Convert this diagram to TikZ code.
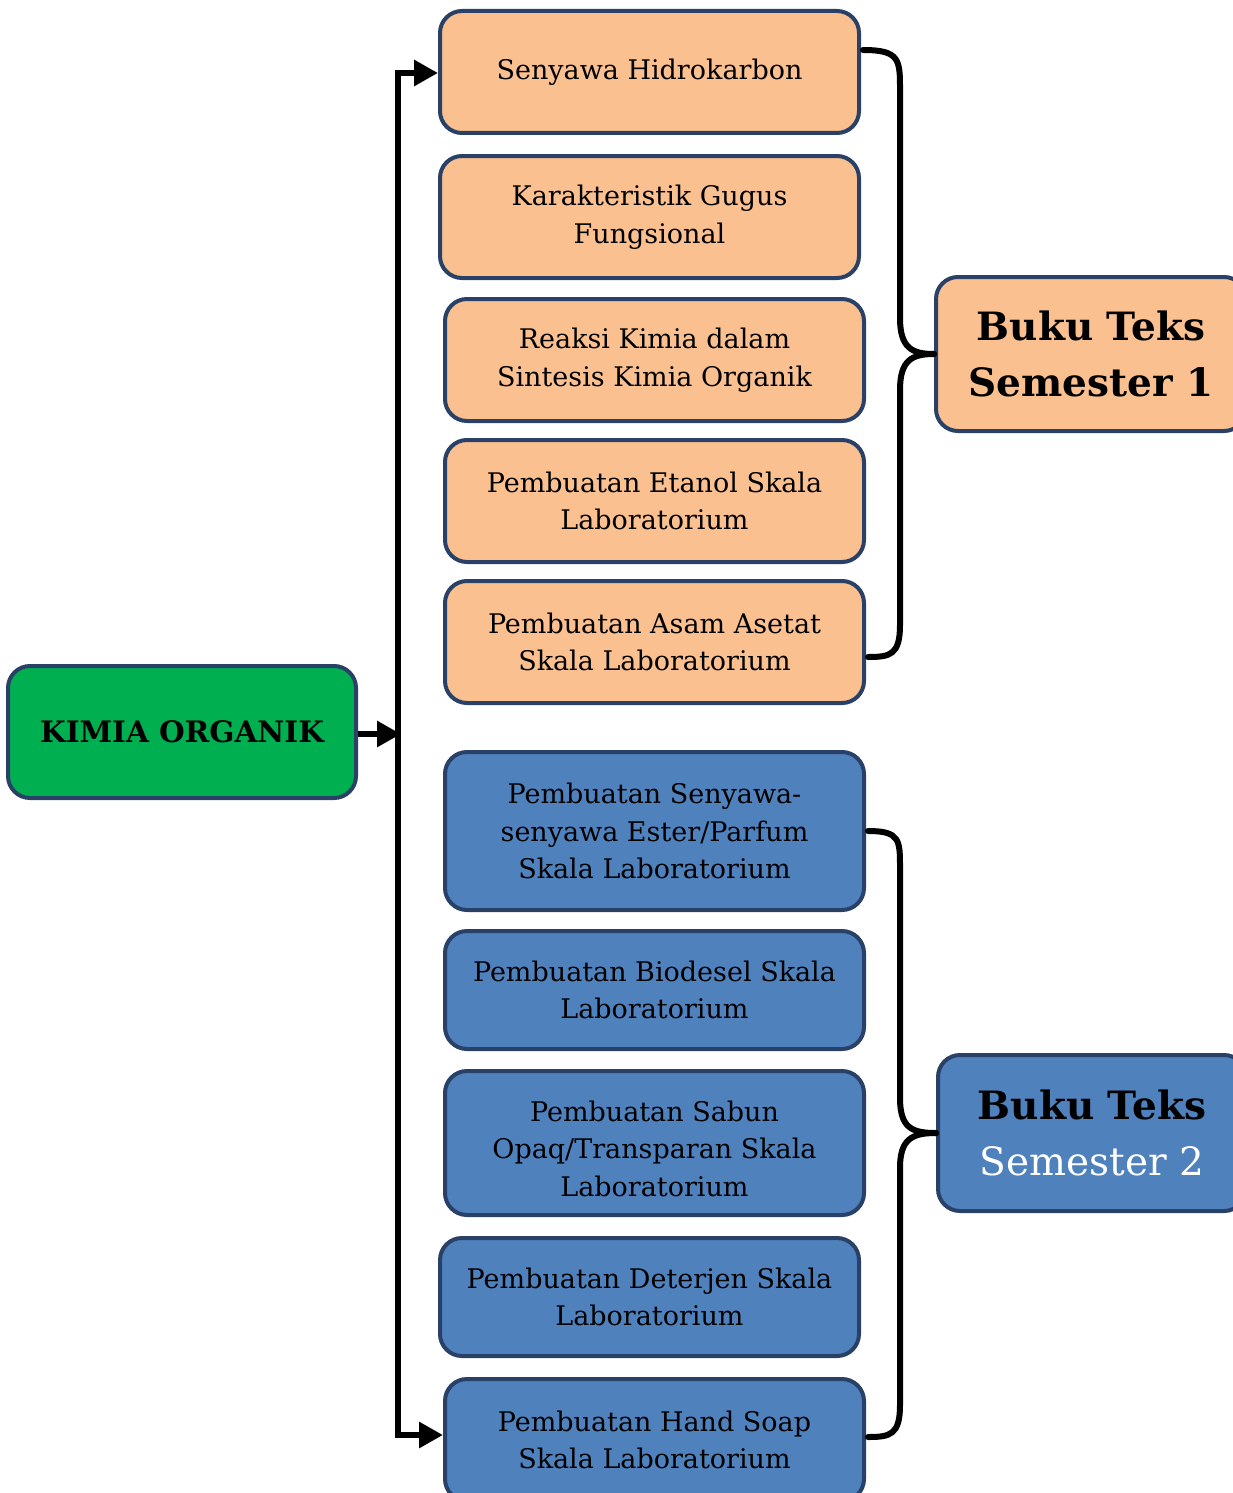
\documentclass[tikz,border=0pt]{standalone}
\usepackage{fontspec}
\setmainfont{DejaVu Serif}
\usetikzlibrary{arrows.meta,calc}
\definecolor{bordc}{HTML}{294166}
\definecolor{peach}{HTML}{FAC090}
\definecolor{blu}{HTML}{4F81BD}
\definecolor{grn}{HTML}{00B050}
\begin{document}
\begin{tikzpicture}[x=1pt,y=1pt,
  box/.style={draw=bordc,line width=4pt,rounded corners=22pt,align=center,
    minimum width=419pt,minimum height=122pt,inner sep=0pt,
    font=\fontsize{27}{37.5}\selectfont},
  orange/.style={box,fill=peach},
  blue/.style={box,fill=blu},
  conn/.style={line width=6pt,black},
  tip/.style={-{Triangle[length=24pt,width=25pt]}},
  brace/.style={line width=6pt,black,line cap=round}]
\useasboundingbox (0,0) rectangle (1233,-1493);
\begin{scope}
\clip (0,0) rectangle (1233,-1493);
\node[orange] (b1) at (649.5,-72) {Senyawa Hidrokarbon};
\node[orange] (b2) at (649.5,-217) {Karakteristik Gugus\\Fungsional};
\node[orange] (b3) at (654.5,-360) {Reaksi Kimia dalam\\Sintesis Kimia Organik};
\node[orange] (b4) at (654.5,-501) {Pembuatan Etanol Skala\\Laboratorium};
\node[orange] (b5) at (654.5,-642) {Pembuatan Asam Asetat\\Skala Laboratorium};
\node[blue,minimum height=158pt] (b6) at (654.5,-831) {Pembuatan Senyawa-\\senyawa Ester/Parfum\\Skala Laboratorium};
\node[blue,minimum height=118pt] (b7) at (654.5,-990) {Pembuatan Biodesel Skala\\Laboratorium};
\node[blue,minimum height=144pt] (b8) at (654.5,-1143) {};
\begin{scope}
\clip (450,-1080) rectangle (860,-1196);
\node[font=\fontsize{27}{37.5}\selectfont,align=center,anchor=north] at (654.5,-1097) {Pembuatan Sabun\\Opaq/Transparan Skala\\Laboratorium};
\end{scope}
\node[blue,minimum height=118pt] (b9) at (649.5,-1297) {Pembuatan Deterjen Skala\\Laboratorium};
\node[blue] (b10) at (654.5,-1440) {Pembuatan Hand Soap\\Skala Laboratorium};
\node[box,fill=grn,minimum width=348pt,minimum height=132pt,font=\fontsize{29.5}{34}\selectfont\bfseries] (k) at (182,-732) {KIMIA ORGANIK};
\node[box,fill=peach,minimum width=310pt,minimum height=154pt,font=\fontsize{39}{56}\selectfont\bfseries] (s1) at (1091,-354) {\raisebox{-3pt}{Buku Teks}\\\raisebox{-3pt}{Semester 1}};
\node[box,fill=blu,minimum width=308pt,minimum height=156pt,font=\fontsize{39}{56}\selectfont] (s2) at (1092,-1133) {\textbf{Buku Teks}\\\textcolor{white}{Semester 2}};
% spine
\coordinate (top) at (398,-73);
\coordinate (bot) at (398,-1435);
\coordinate (mid) at (398,-734);
\draw[conn,line join=miter] (bot) -- (top);
\draw[conn,tip] ($(top)+(-3,0)$) -- (top -| b1.west);
\draw[conn,tip] ($(bot)+(-3,0)$) -- (bot -| b10.west);
\draw[conn,tip] (k.east |- mid) -- ($(mid)+(3,0)$);
% braces
\draw[brace] ($(b1.east)+(2,22)$) .. controls (900,-50) and (900,-60) .. (900,-90) -- (900,-318) .. controls (900,-348) and (912,-354) .. (s1.west);
\draw[brace] (s1.west) .. controls (912,-354) and (900,-360) .. (900,-390) -- (900,-625) .. controls (900,-655) and (890,-657) .. ($(b5.east)+(2,-15)$);
\draw[brace] ($(b6.east)+(2,0)$) .. controls (900,-831) and (900,-840) .. (900,-868) -- (900,-1098) .. controls (900,-1128) and (912,-1133) .. (s2.west);
\draw[brace] (s2.west) .. controls (912,-1133) and (900,-1139) .. (900,-1168) -- (900,-1405) .. controls (900,-1435) and (890,-1437) .. ($(b10.east)+(2,3)$);
\end{scope}
\end{tikzpicture}
\end{document}
